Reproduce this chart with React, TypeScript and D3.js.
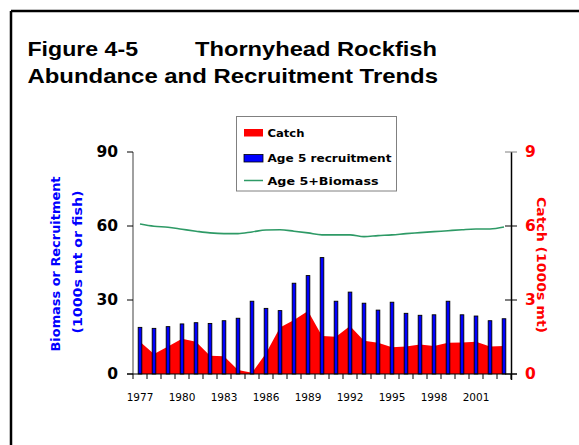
import React from "react";
import * as d3 from "d3";

const years: number[] = [1977,1978,1979,1980,1981,1982,1983,1984,1985,1986,1987,1988,1989,1990,1991,1992,1993,1994,1995,1996,1997,1998,1999,2000,2001,2002,2003];
const recruitment: number[] = [18.9,18.5,19.2,20.3,20.8,20.5,21.6,22.6,29.5,26.6,25.7,36.8,39.9,47.2,29.5,33.2,28.7,25.9,29.1,24.6,23.8,24.0,29.5,24.0,23.5,21.6,22.4];
const catchVals: number[] = [1.31,0.81,1.11,1.43,1.31,0.74,0.72,0.16,0.05,0.84,1.89,2.19,2.55,1.54,1.51,1.95,1.35,1.27,1.08,1.11,1.2,1.14,1.27,1.28,1.31,1.11,1.14];
const biomass: number[] = [60.8,59.9,59.5,58.7,57.9,57.2,56.9,56.9,57.6,58.4,58.5,57.9,57.2,56.4,56.4,56.4,55.7,56.1,56.4,56.9,57.3,57.7,58.1,58.5,58.8,58.8,59.6];
const leftTicks: number[] = [0,30,60,90];
const rightTicks: number[] = [0,3,6,9];
const xLabelYears: number[] = [1977,1980,1983,1986,1989,1992,1995,1998,2001];

const comic = "'Comic Sans MS', 'DejaVu Sans', sans-serif";

export default function App() {
  const x = d3.scaleBand<number>().domain(years).range([133, 511]).paddingInner(0).paddingOuter(0);
  const yL = d3.scaleLinear().domain([0, 90]).range([374, 152]);
  const yR = d3.scaleLinear().domain([0, 9]).range([374, 152]);
  const cx = (yr: number) => (x(yr) as number) + x.bandwidth() / 2;

  const areaGen = d3.area<number>()
    .x((_, i) => cx(years[i]))
    .y0(yR(0))
    .y1((d) => yR(d));
  const lineGen = d3.line<number>()
    .x((_, i) => cx(years[i]))
    .y((d) => yL(d))
    .curve(d3.curveMonotoneX);

  const barW = 3.6;
  const boundaries = years.map((y) => x(y) as number).concat([511]);

  return (
    <svg width={579} height={445} style={{ position: "absolute", left: 0, top: 0, background: "#fff" }}>
      {/* outer frame */}
      <line x1={11} y1={11} x2={579} y2={11} stroke="#000" strokeWidth={2.5} />
      <line x1={11} y1={11} x2={11} y2={445} stroke="#000" strokeWidth={2.5} />

      {/* title */}
      <g fontFamily="'Liberation Sans', Arial, sans-serif" fontWeight="bold" fontSize={21} fill="#000">
        <text x={27.5} y={55.5} textLength={110.5} lengthAdjust="spacingAndGlyphs">Figure 4-5</text>
        <text x={195} y={55.5} textLength={242} lengthAdjust="spacingAndGlyphs">Thornyhead Rockfish</text>
        <text x={27.5} y={82.5} textLength={410.5} lengthAdjust="spacingAndGlyphs">Abundance and Recruitment Trends</text>
      </g>

      {/* catch area */}
      <path d={areaGen(catchVals) || ""} fill="#ff0000" stroke="none" />

      {/* recruitment bars */}
      {recruitment.map((v, i) => (
        <rect key={years[i]} x={cx(years[i]) - barW / 2} y={yL(v)} width={barW} height={yL(0) - yL(v)}
          fill="#0000ff" stroke="#000" strokeWidth={0.9} />
      ))}

      {/* biomass line */}
      <path d={lineGen(biomass) || ""} fill="none" stroke="#2e9a66" strokeWidth={1.6} />

      {/* left axis */}
      <line x1={133} y1={152} x2={133} y2={374} stroke="#808080" strokeWidth={1.5} />
      {leftTicks.map((t) => (
        <g key={t}>
          <line x1={127} x2={133} y1={yL(t)} y2={yL(t)} stroke="#000" strokeWidth={1} />
          <text x={118} y={yL(t)} textAnchor="end" dominantBaseline="central" fontFamily={comic} fontWeight="bold" fontSize={15.5} fill="#000">{t}</text>
        </g>
      ))}

      {/* right axis */}
      <line x1={511.5} y1={152} x2={511.5} y2={380} stroke="#000" strokeWidth={1.5} />
      {rightTicks.map((t) => (
        <g key={t}>
          <line x1={505} x2={517} y1={yR(t)} y2={yR(t)} stroke={t === 9 ? "#808080" : "#000"} strokeWidth={1} />
          <text x={525} y={yR(t)} textAnchor="start" dominantBaseline="central" fontFamily={comic} fontWeight="bold" fontSize={15.5} fill="#ff0000">{t}</text>
        </g>
      ))}

      {/* x axis */}
      <line x1={127} y1={374} x2={517} y2={374} stroke="#000" strokeWidth={1.2} />
      {boundaries.map((b, i) => (
        <line key={i} x1={b} x2={b} y1={374} y2={379} stroke="#000" strokeWidth={1} />
      ))}
      {xLabelYears.map((yr) => (
        <text key={yr} x={cx(yr)} y={397} textAnchor="middle" dominantBaseline="central" fontFamily={comic} fontSize={10.5} fill="#000">{yr}</text>
      ))}

      {/* axis titles */}
      <g fontFamily={comic} fontWeight="bold" fontSize={12.5} fill="#0000ff">
        <text transform="translate(55,264) rotate(-90)" textAnchor="middle" dominantBaseline="central" textLength={175} lengthAdjust="spacingAndGlyphs">Biomass or Recruitment</text>
        <text transform="translate(77.5,262) rotate(-90)" textAnchor="middle" dominantBaseline="central" textLength={143} lengthAdjust="spacingAndGlyphs">(1000s mt or fish)</text>
      </g>
      <text transform="translate(541.5,265) rotate(90)" textAnchor="middle" dominantBaseline="central" fontFamily={comic} fontWeight="bold" fontSize={12.5} fill="#ff0000" textLength={136} lengthAdjust="spacingAndGlyphs">Catch (1000s mt)</text>

      {/* legend */}
      <rect x={236.5} y={116.5} width={160} height={74.5} fill="#fff" stroke="#808080" strokeWidth={1} />
      <rect x={244} y={129} width={19} height={7.5} fill="#ff0000" />
      <rect x={244} y={154.5} width={19} height={7.5} fill="#0000ff" stroke="#000" strokeWidth={0.8} />
      <line x1={244} x2={263} y1={180.5} y2={180.5} stroke="#2e9a66" strokeWidth={1.5} />
      <g fontFamily={comic} fontWeight="bold" fontSize={11} fill="#000">
        <text x={267.5} y={133} dominantBaseline="central" textLength={37} lengthAdjust="spacingAndGlyphs">Catch</text>
        <text x={267.5} y={158.3} dominantBaseline="central" textLength={124} lengthAdjust="spacingAndGlyphs">Age 5 recruitment</text>
        <text x={267.5} y={181} dominantBaseline="central" textLength={111} lengthAdjust="spacingAndGlyphs">Age 5+Biomass</text>
      </g>
    </svg>
  );
}
